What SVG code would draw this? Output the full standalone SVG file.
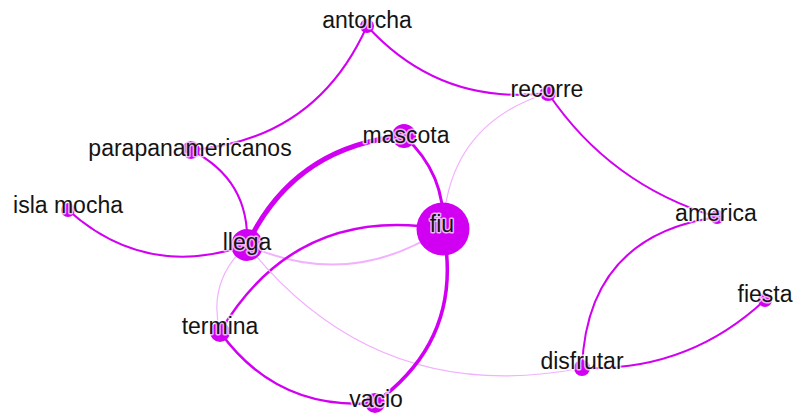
<svg xmlns="http://www.w3.org/2000/svg" width="795" height="414" viewBox="0 0 795 414">
<style>
.e{fill:none;stroke:#d200f2;stroke-linecap:round}
.l{fill:none;stroke:#f2b0ff;stroke-linecap:round}
.n{fill:#d200f2}
.t{font-family:"Liberation Sans",Arial,sans-serif;font-size:23px;fill:#141414;text-anchor:middle;stroke:#ffffff;stroke-opacity:0.7;stroke-width:3;paint-order:stroke;stroke-linejoin:round}
</style>
<rect width="795" height="414" fill="#ffffff"/>
<g id="edges">
<path class="e" stroke-width="2" d="M367,26 Q316,140 191,150"/>
<path class="e" stroke-width="2" d="M367,26 Q440,106 548,93"/>
<path class="l" stroke-width="1.2" d="M548,93 Q448,124 443,229"/>
<path class="e" stroke-width="2" d="M548,93 Q610,185 717,217"/>
<path class="e" stroke-width="2" d="M717,217 Q587,236 582,368"/>
<path class="e" stroke-width="2" d="M582,368 Q688,372 765,300"/>
<path class="e" stroke-width="3" d="M404,136 Q446,174 443,229"/>
<path class="e" stroke-width="5" d="M404,136 Q294,146 247,245"/>
<path class="e" stroke-width="2" d="M191,150 Q250,180 247,245"/>
<path class="e" stroke-width="2" d="M68,210 Q146,280 247,245"/>
<path class="l" stroke-width="2" d="M247,245 Q349,291 443,229"/>
<path class="e" stroke-width="2.5" d="M220,332 Q296,204 443,229"/>
<path class="l" stroke-width="1.2" d="M247,245 Q207,281 220,332"/>
<path class="l" stroke-width="1.2" d="M247,245 Q377,408 582,368"/>
<path class="e" stroke-width="2.5" d="M220,332 Q277,411 375,403"/>
<path class="e" stroke-width="3.5" d="M443,229 Q465,338 375,403"/>
</g>
<g id="node-antorcha"><circle class="n" cx="367" cy="26" r="7"/><text class="t" x="367" y="28">antorcha</text></g>
<g id="node-recorre"><circle class="n" cx="548" cy="93" r="8"/><text class="t" x="547" y="97">recorre</text></g>
<g id="node-parapanamericanos"><circle class="n" cx="191" cy="150" r="9"/><text class="t" x="190" y="156">parapanamericanos</text></g>
<g id="node-mascota"><circle class="n" cx="404" cy="136" r="12"/><text class="t" x="406" y="143">mascota</text></g>
<g id="node-isla-mocha"><circle class="n" cx="68" cy="210" r="7"/><text class="t" x="68" y="213">isla mocha</text></g>
<g id="node-fiu"><circle class="n" cx="443" cy="229" r="26.5"/><text class="t" x="442" y="232">fiu</text></g>
<g id="node-llega"><circle class="n" cx="247" cy="245" r="16"/><text class="t" x="247" y="250">llega</text></g>
<g id="node-america"><circle class="n" cx="717" cy="217" r="7"/><text class="t" x="716" y="221">america</text></g>
<g id="node-fiesta"><circle class="n" cx="765" cy="300" r="7"/><text class="t" x="765" y="302">fiesta</text></g>
<g id="node-termina"><circle class="n" cx="220" cy="332" r="10"/><text class="t" x="220" y="334">termina</text></g>
<g id="node-disfrutar"><circle class="n" cx="582" cy="368" r="8"/><text class="t" x="582" y="369">disfrutar</text></g>
<g id="node-vacio"><circle class="n" cx="375" cy="403" r="10"/><text class="t" x="376" y="407">vacio</text></g>
</svg>
